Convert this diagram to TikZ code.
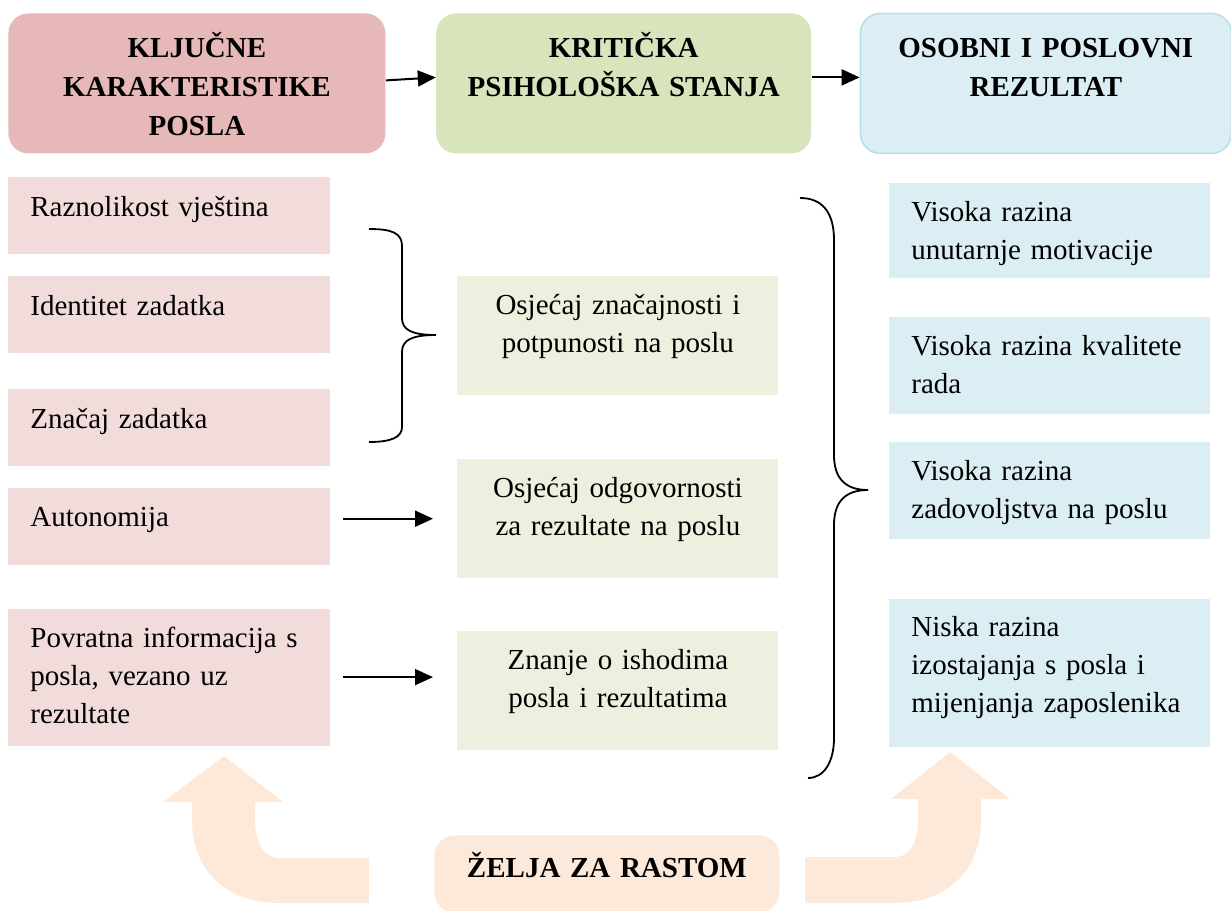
\documentclass[tikz,border=0pt]{standalone}
\usepackage{fontspec}
\setmainfont{Liberation Serif}
\usetikzlibrary{positioning,arrows.meta}

\definecolor{hred}{HTML}{E6B8B7}
\definecolor{hgreen}{HTML}{D7E4BC}
\definecolor{hblue}{HTML}{DAEEF3}
\definecolor{hblueline}{HTML}{B7DDE8}
\definecolor{lred}{HTML}{F2DCDB}
\definecolor{lgreen}{HTML}{EBF1DE}
\definecolor{lblue}{HTML}{DBEEF3}
\definecolor{peach}{HTML}{FDE9D9}

\newcommand\cellfont{\fontsize{14.5pt}{19pt}\selectfont}

\tikzset{
  head/.style={rounded corners=10pt, font=\fontsize{14.5pt}{19.5pt}\selectfont\bfseries,
    align=center, inner xsep=4pt, inner ysep=0pt, text height=22pt, text depth=48pt,
    anchor=north west},
  kbox/.style={fill=lred, text width=139pt, inner xsep=11pt, inner ysep=0pt,
    align=left, font=\cellfont, text height=19.5pt},
  sbox/.style={fill=lgreen, text width=152.5pt, inner xsep=4pt, inner ysep=0pt,
    align=center, font=\cellfont, text height=19pt, text depth=40.5pt},
  rbox/.style={fill=lblue, text width=138.5pt, inner xsep=11pt, inner ysep=0pt,
    align=left, font=\cellfont, text height=19pt},
  arr/.style={-{Triangle[length=9pt,width=8pt]}, line width=1pt},
  brace/.style={line width=0.9pt}
}

\begin{document}
\begin{tikzpicture}[x=0.5pt,y=-0.5pt]
\useasboundingbox (0,0) rectangle (1231,910);

 % Nodes

\node[head, fill=hred, text width=180.5pt] (kljucne) at (8,13) {KLJUČNE\\KARAKTERISTIKE\\POSLA};
\node[head, fill=hgreen, text width=179.5pt, right=25pt of kljucne] (kriticka) {KRITIČKA\\PSIHOLOŠKA STANJA};
\node[head, fill=hblue, draw=hblueline, line width=0.75pt, text width=177.5pt, right=24pt of kriticka] (rezultat) {OSOBNI I POSLOVNI\\REZULTAT};

\node[kbox, text depth=19pt, anchor=north west] (raz) at (8,177) {Raznolikost vještina};
\node[kbox, text depth=19pt, below=10.5pt of raz] (ident) {Identitet zadatka};
\node[kbox, text depth=19pt, below=17.5pt of ident] (znacaj) {Značaj zadatka};
\node[kbox, text depth=19pt, below=10.5pt of znacaj] (auton) {Autonomija};
\node[kbox, text depth=49pt, below=21.5pt of auton] (povrat) {Povratna informacija s\\posla, vezano uz\\rezultate};

\node[sbox, anchor=north west] (osj1) at (457,276) {Osjećaj značajnosti i\\potpunosti na poslu};
\node[sbox, below=31.5pt of osj1] (osj2) {Osjećaj odgovornosti\\za rezultate na poslu};
\node[sbox, below=26pt of osj2] (znanje) {Znanje o ishodima\\posla i rezultatima};

\node[rbox, text depth=28.5pt, anchor=north west] (mot) at (889,183) {Visoka razina\\unutarnje motivacije};
\node[rbox, text depth=29.5pt, below=19pt of mot] (kval) {Visoka razina kvalitete\\rada};
\node[rbox, text depth=29.5pt, below=13.5pt of kval] (zadov) {Visoka razina\\zadovoljstva na poslu};
\node[rbox, text depth=55pt, below=29.5pt of zadov] (niska) {Niska razina\\izostajanja s posla i\\mijenjanja zaposlenika};

\node[head, fill=peach, text width=164.5pt, text height=21pt, text depth=17.5pt] (zelja) at (434,835) {ŽELJA ZA RASTOM};

% Connect nodes
\draw[arr] ([yshift=1.5pt]kljucne.east) -- ([yshift=3pt]kriticka.west);
\draw[arr] ([yshift=3pt]kriticka.east) -- ([yshift=3pt]rezultat.west);
\draw[arr, shorten <=6pt, shorten >=12pt] (auton.east |- osj2.west) -- (osj2.west);
\draw[arr, shorten <=6pt, shorten >=12pt] (povrat.east) -- (povrat.east -| znanje.west);

% Braces
\draw[brace] (369,229) .. controls (392,229) and (402,233) .. (402,246) -- (402,318)
  .. controls (402,330) and (412,335) .. (436,335)
  .. controls (412,335) and (402,340) .. (402,352) -- (402,427)
  .. controls (402,437) and (392,442) .. (369,442);
\draw[brace] (800,198) .. controls (822,198) and (834,212) .. (834,240) -- (834,455)
  .. controls (834,478) and (845,490) .. (868,490)
  .. controls (845,490) and (834,502) .. (834,525) -- (834,738)
  .. controls (834,762) and (824,778) .. (808,778);

% Growth arrows
\fill[peach] (369,903) -- (279,903) .. controls (228,903) and (192,872) .. (192,820)
  -- (192,802) -- (163,802) -- (224,756) -- (283,802) -- (255,802) -- (255,820)
  .. controls (255,845) and (266,858) .. (279,858) -- (369,858) -- cycle;
\fill[peach] (805,857) -- (895,857) .. controls (908,857) and (918,845) .. (918,820)
  -- (918,799) -- (891,799) -- (950,752) -- (1010,799) -- (981,799) -- (981,820)
  .. controls (981,872) and (945,903) .. (895,903) -- (805,903) -- cycle;

\end{tikzpicture}
\end{document}
